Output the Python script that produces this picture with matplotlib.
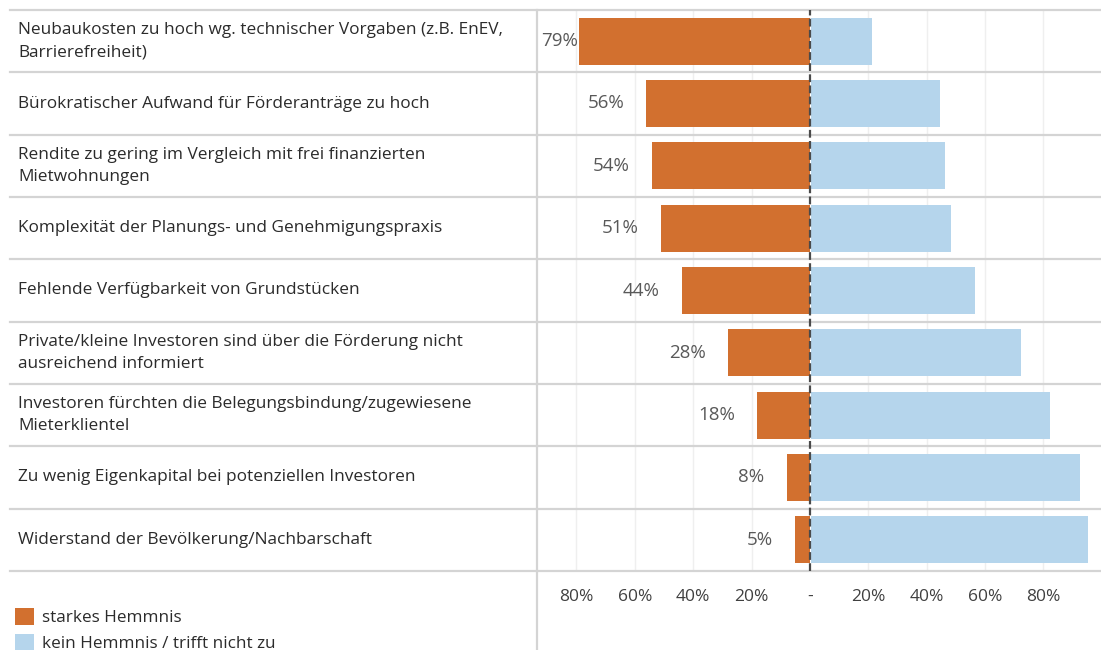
import matplotlib
matplotlib.use("Agg")
import matplotlib.pyplot as plt
from matplotlib.patches import Patch
from matplotlib.lines import Line2D
import matplotlib.transforms as mtransforms

categories = [
    "Neubaukosten zu hoch wg. technischer Vorgaben (z.B. EnEV,\nBarrierefreiheit)",
    "Bürokratischer Aufwand für Förderanträge zu hoch",
    "Rendite zu gering im Vergleich mit frei finanzierten\nMietwohnungen",
    "Komplexität der Planungs- und Genehmigungspraxis",
    "Fehlende Verfügbarkeit von Grundstücken",
    "Private/kleine Investoren sind über die Förderung nicht\nausreichend informiert",
    "Investoren fürchten die Belegungsbindung/zugewiesene\nMieterklientel",
    "Zu wenig Eigenkapital bei potenziellen Investoren",
    "Widerstand der Bevölkerung/Nachbarschaft",
]
starkes = [79, 56, 54, 51, 44, 28, 18, 8, 5]
kein = [21, 44, 46, 48, 56, 72, 82, 92, 95]
tick_values = [-80, -60, -40, -20, 0, 20, 40, 60, 80]
tick_labels = ["80%", "60%", "40%", "20%", "-", "20%", "40%", "60%", "80%"]
series_names = ["starkes Hemmnis", "kein Hemmnis / trifft nicht zu"]

ORANGE = "#D2702F"
BLUE = "#B5D5EC"
LINE = "#D4D4D4"
TXT = "#2B2B2B"
FONT = ["Open Sans", "DejaVu Sans"]
plt.rcParams["font.family"] = FONT

W, H = 1101, 650
fig = plt.figure(figsize=(W / 100, H / 100), dpi=100)

left_px, right_px, top_px, bot_px = 537, 1101, 10, 571
ax = fig.add_axes([left_px / W, 1 - bot_px / H, (right_px - left_px) / W, (bot_px - top_px) / H])
ax.set_facecolor("none")

n = len(categories)
ypos = [i + 0.5 for i in range(n)]
ax.set_ylim(n, 0)
ax.set_xlim(-93.5, 99.7)

# faint grid
for v in tick_values:
    if v != 0:
        ax.axvline(v, color="#EFEFEF", lw=1.0, zorder=0)

ax.barh(ypos, [-v for v in starkes], height=0.75, color=ORANGE, zorder=2)
ax.barh(ypos, kein, left=0.4, height=0.75, color=BLUE, zorder=2)

ax.axvline(0, color="#4A4A4A", lw=1.6, ls=(0, (3.5, 1.5)), zorder=3)

# row separators
x0_axes = (10 - left_px) / (right_px - left_px)
for k in range(n + 1):
    ax.axhline(k, xmin=x0_axes, xmax=1, color=LINE, lw=1.6, clip_on=False, zorder=1)

# vertical separator
fig.add_artist(Line2D([left_px / W, left_px / W], [0, 1 - top_px / H],
                      transform=fig.transFigure, color=LINE, lw=1.6))

# category labels
trans = mtransforms.blended_transform_factory(fig.transFigure, ax.transData)
for y, lab in zip(ypos, categories):
    ax.text(18 / W, y, lab, transform=trans, ha="left", va="center",
            fontsize=12.4, color=TXT, linespacing=1.5)

# value labels
for y, v in zip(ypos, starkes):
    off = -16
    if v > 75:
        off = -1
    ax.annotate(f"{v}%", xy=(-v, y), xytext=(off, 0), textcoords="offset points",
                ha="right", va="center", fontsize=13.5, color="#595959", zorder=4)

ax.set_xticks(tick_values)
ax.set_xticklabels(tick_labels)
ax.tick_params(axis="x", length=0, pad=13, labelsize=12.5, labelcolor="#404040")
ax.set_yticks([])
for s in ax.spines.values():
    s.set_visible(False)

handles = [Patch(facecolor=ORANGE, edgecolor="none"), Patch(facecolor=BLUE, edgecolor="none")]
fig.legend(handles, series_names, loc="upper left", bbox_to_anchor=(8 / W, 1 - 601 / H),
           frameon=False, fontsize=12.3, handlelength=1.15, handleheight=1.15,
           handletextpad=0.45, labelspacing=0.45, borderaxespad=0, labelcolor=TXT)

fig.savefig("out.png", dpi=100)
